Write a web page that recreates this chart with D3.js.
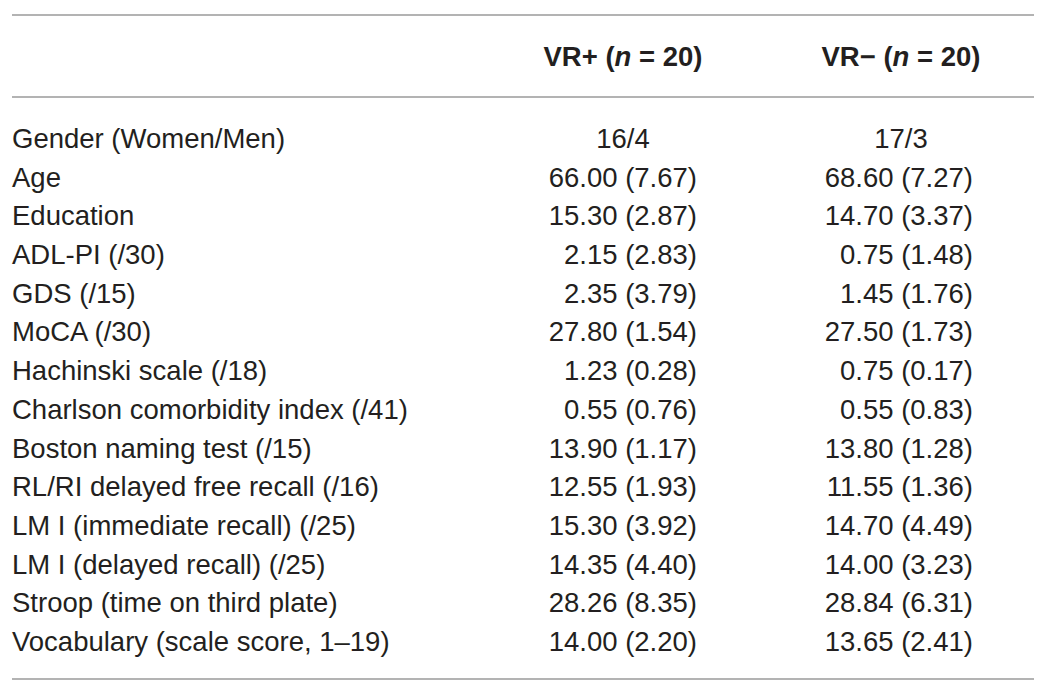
<!DOCTYPE html>
<html>
<head>
<meta charset="utf-8">
<script src="https://cdn.jsdelivr.net/npm/d3@7"></script>
<style>
  html, body { margin: 0; padding: 0; background: #fff; }
  svg { display: block; }
</style>
</head>
<body>
<svg></svg>
<script>
// table content
const groups = ["VR+", "VR\u2212"];
const groupN = [20, 20];
const measures = [
    "Gender (Women/Men)", "Age", "Education", "ADL-PI (/30)", "GDS (/15)", "MoCA (/30)",
    "Hachinski scale (/18)", "Charlson comorbidity index (/41)", "Boston naming test (/15)",
    "RL/RI delayed free recall (/16)", "LM I (immediate recall) (/25)", "LM I (delayed recall) (/25)",
    "Stroop (time on third plate)", "Vocabulary (scale score, 1\u201319)"
];
const genderCounts = [[16, 4], [17, 3]];
// mean and sd for each measure after gender
const vrPlusMean = [66.00, 15.30, 2.15, 2.35, 27.80, 1.23, 0.55, 13.90, 12.55, 15.30, 14.35, 28.26, 14.00];
const vrPlusSd   = [7.67, 2.87, 2.83, 3.79, 1.54, 0.28, 0.76, 1.17, 1.93, 3.92, 4.40, 8.35, 2.20];
const vrMinusMean = [68.60, 14.70, 0.75, 1.45, 27.50, 0.75, 0.55, 13.80, 11.55, 14.70, 14.00, 28.84, 13.65];
const vrMinusSd   = [7.27, 3.37, 1.48, 1.76, 1.73, 0.17, 0.83, 1.28, 1.36, 4.49, 3.23, 6.31, 2.41];

window.onload = function() {
    const width = 1050, height = 696;
    const svg = d3.select("svg")
        .attr("width", width)
        .attr("height", height);

    const font = "'Liberation Sans', Arial, sans-serif";
    const ink = "#231f20";

    // row baselines
    const y = d3.scalePoint()
        .domain(measures)
        .range([148, 651]);

    const colCenter = d3.scaleOrdinal().domain(groups).range([623, 901]);
    const colRight = d3.scaleOrdinal().domain(groups).range([697, 973]);

    // rules
    const rules = [15, 97, 679];
    svg.selectAll("line.rule")
        .data(rules)
        .join("line")
        .attr("class", "rule")
        .attr("x1", 12).attr("x2", 1034)
        .attr("y1", d => d).attr("y2", d => d)
        .attr("stroke", "#9a9a9a")
        .attr("stroke-width", 1.6);

    // header
    const head = svg.selectAll("text.head")
        .data(groups)
        .join("text")
        .attr("class", "head")
        .attr("x", d => colCenter(d))
        .attr("y", 66)
        .attr("text-anchor", "middle")
        .attr("font-family", font)
        .attr("font-size", 27.5)
        .attr("font-weight", "bold")
        .attr("fill", ink);
    head.append("tspan").text(d => d + " (");
    head.append("tspan").attr("font-style", "italic").text("n");
    head.append("tspan").text((d, i) => " = " + groupN[i] + ")");

    // row labels
    svg.selectAll("text.label")
        .data(measures)
        .join("text")
        .attr("class", "label")
        .attr("x", 12)
        .attr("y", d => y(d))
        .attr("font-family", font)
        .attr("font-size", 27.5)
        .attr("font-weight", 300)
        .attr("fill", ink)
        .text(d => d);

    // cells
    const cells = [];
    groups.forEach(function(g, gi) {
        cells.push({ g: g, row: measures[0], text: genderCounts[gi].join("/"), center: true });
        const means = gi === 0 ? vrPlusMean : vrMinusMean;
        const sds = gi === 0 ? vrPlusSd : vrMinusSd;
        means.forEach(function(m, i) {
            cells.push({ g: g, row: measures[i + 1], text: m.toFixed(2) + " (" + sds[i].toFixed(2) + ")", center: false });
        });
    });

    svg.selectAll("text.cell")
        .data(cells)
        .join("text")
        .attr("class", "cell")
        .attr("x", d => d.center ? colCenter(d.g) : colRight(d.g))
        .attr("y", d => y(d.row))
        .attr("text-anchor", d => d.center ? "middle" : "end")
        .attr("font-family", font)
        .attr("font-size", 27.5)
        .attr("font-weight", 300)
        .attr("fill", ink)
        .text(d => d.text);
};
</script>
</body>
</html>
